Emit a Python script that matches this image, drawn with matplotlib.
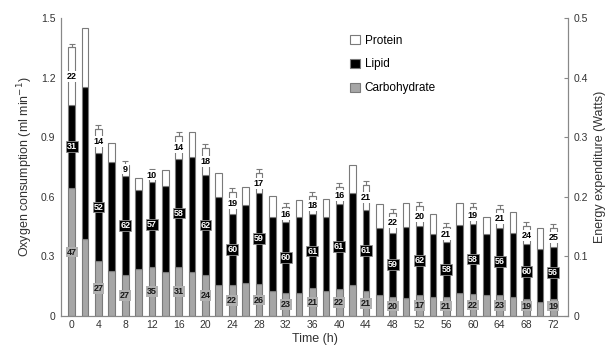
import matplotlib.pyplot as plt
import numpy as np

plt.rcParams['font.family'] = ['Liberation Sans', 'DejaVu Sans']

# time points (h)
hours = np.arange(0, 73, 2)

# oxygen consumption split by fuel (ml min-1)
carbohydrate = [0.644, 0.387, 0.277, 0.226, 0.206, 0.236, 0.247, 0.221, 0.247, 0.221,
                0.206, 0.156, 0.156, 0.166, 0.161, 0.127, 0.117, 0.116, 0.141, 0.127,
                0.136, 0.156, 0.127, 0.106, 0.097, 0.090, 0.106, 0.097, 0.097, 0.116,
                0.111, 0.106, 0.106, 0.096, 0.086, 0.072, 0.086]
lipid = [0.418, 0.765, 0.543, 0.549, 0.499, 0.398, 0.428, 0.433, 0.543, 0.579,
         0.504, 0.444, 0.357, 0.393, 0.458, 0.373, 0.358, 0.382, 0.372, 0.371,
         0.428, 0.464, 0.406, 0.338, 0.322, 0.359, 0.347, 0.316, 0.277, 0.342,
         0.352, 0.307, 0.337, 0.323, 0.276, 0.265, 0.263]
protein = [0.290, 0.297, 0.120, 0.096, 0.055, 0.060, 0.045, 0.081, 0.115, 0.128,
           0.135, 0.121, 0.110, 0.092, 0.100, 0.104, 0.075, 0.086, 0.090, 0.091,
           0.085, 0.140, 0.125, 0.120, 0.100, 0.120, 0.100, 0.100, 0.075, 0.112,
           0.085, 0.087, 0.095, 0.106, 0.090, 0.106, 0.095]

# percentage labels every 4 h (protein, lipid, carbohydrate)
label_hours = np.arange(0, 73, 4)
pct_protein = [22, 14, 9, 10, 14, 18, 19, 17, 16, 18, 16, 21, 22, 20, 21, 19, 21, 24, 25]
pct_lipid = [31, 52, 62, 57, 58, 62, 60, 59, 60, 61, 61, 61, 59, 62, 58, 58, 56, 60, 56]
pct_carb = [47, 27, 27, 35, 31, 24, 22, 26, 23, 21, 22, 21, 20, 17, 21, 22, 23, 19, 19]

carb = np.array(carbohydrate)
lip = np.array(lipid)
prot = np.array(protein)
total = carb + lip + prot

fig = plt.figure(figsize=(6.12, 3.62), dpi=100)
ax = fig.add_axes([0.0997, 0.127, 0.8283, 0.823])

edge = '#7a7a7a'
w = 1.0
ax.bar(hours, carb, width=w, color='#a6a6a6', edgecolor=edge, linewidth=0.8, label='Carbohydrate')
ax.bar(hours, lip, width=w, bottom=carb, color='black', edgecolor=edge, linewidth=0.8, label='Lipid')
ax.bar(hours, prot, width=w, bottom=carb + lip, color='white', edgecolor=edge, linewidth=0.8, label='Protein')

idx = [list(hours).index(h) for h in label_hours]
ax.errorbar(label_hours, total[idx], yerr=[np.zeros(len(idx)), np.full(len(idx), 0.02)],
            fmt='none', ecolor=edge, elinewidth=0.8, capsize=2.5, capthick=0.8)

fs = 6.5
for k, i in enumerate(idx):
    x = hours[i]
    yp = carb[i] + lip[i] + max(prot[i] / 2, 0.035)
    ax.text(x, yp, str(pct_protein[k]), ha='center', va='center', fontsize=fs,
            fontweight='bold', color='black',
            bbox=dict(boxstyle='square,pad=0.1', fc='white', ec='none'))
    yl = carb[i] + lip[i] / 2
    ax.text(x, yl, str(pct_lipid[k]), ha='center', va='center', fontsize=fs,
            fontweight='bold', color='white',
            bbox=dict(boxstyle='square,pad=0.1', fc='black', ec='#909090', lw=0.6))
    yc = max(carb[i] / 2, 0.05)
    ax.text(x, yc, str(pct_carb[k]), ha='center', va='center', fontsize=fs,
            fontweight='bold', color='#1a1a1a',
            bbox=dict(boxstyle='square,pad=0.1', fc='#b0b0b0', ec='none'))

ax.set_xlim(-1.6, 74.2)
ax.set_ylim(0, 1.5)
ax.set_xticks(label_hours)
ax.set_yticks([0, 0.3, 0.6, 0.9, 1.2, 1.5])
ax.set_yticklabels(['0', '0.3', '0.6', '0.9', '1.2', '1.5'])
ax.set_xlabel('Time (h)', fontsize=9, color='#333333', labelpad=2)
ax.set_ylabel('Oxygen consumption (ml min$^{-1}$)', fontsize=9, color='#333333')
ax.spines['top'].set_visible(False)
for s in ['left', 'bottom', 'right']:
    ax.spines[s].set_color('#888888')
ax.tick_params(axis='both', labelsize=7.5, colors='#333333', length=0, pad=4)
ax.tick_params(axis='x', pad=3)

ax2 = ax.twinx()
ax2.set_ylim(0, 0.5)
ax2.set_yticks([0, 0.1, 0.2, 0.3, 0.4, 0.5])
ax2.set_yticklabels(['0', '0.1', '0.2', '0.3', '0.4', '0.5'])
ax2.set_ylabel('Energy expenditure (Watts)', fontsize=9, color='#333333')
ax2.spines['top'].set_visible(False)
for s in ['left', 'bottom', 'right']:
    ax2.spines[s].set_color('#888888')
ax2.tick_params(axis='y', labelsize=7.5, colors='#333333', direction='in', length=3, pad=4)
ax2.tick_params(axis='y', color='#888888')

handles, labels = ax.get_legend_handles_labels()
ax.legend(handles[::-1], labels[::-1], loc='upper left', bbox_to_anchor=(0.55, 0.98),
          frameon=False, fontsize=8.5, handlelength=0.8, handleheight=0.8,
          labelspacing=1.0, handletextpad=0.4)

fig.savefig('out.png', dpi=100)
